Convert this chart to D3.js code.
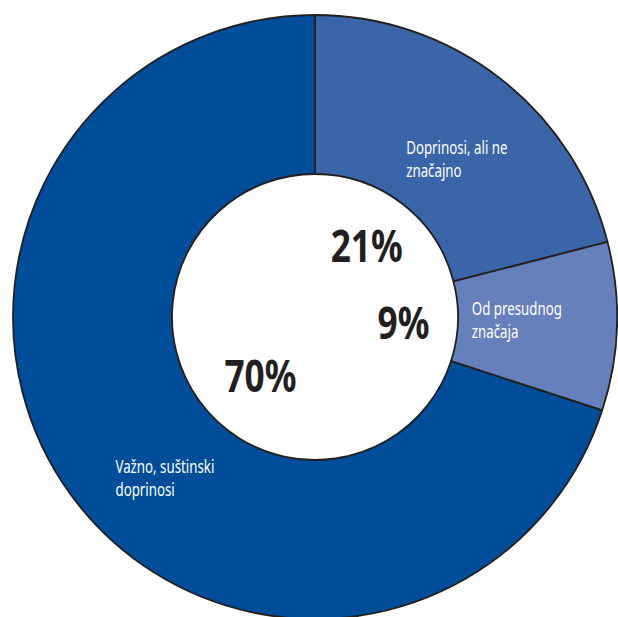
<!DOCTYPE html>
<html>
<head>
<meta charset="utf-8">
<script src="https://cdn.jsdelivr.net/npm/d3@7"></script>
<style>
  html, body { margin: 0; padding: 0; background: #fff; }
  svg { display: block; }
  .pct { font-family: "Noto Sans", "Open Sans", sans-serif; font-weight: bold; fill: #231f20; }
  .cat text { font-family: "Noto Sans", "Open Sans", sans-serif; fill: #fff; }
</style>
</head>
<body>
<div id="chart"></div>
<script>
// donnees
const categories = ["Doprinosi, ali ne značajno", "Od presudnog značaja", "Važno, suštinski doprinosi"];
const categoryLines = [["Doprinosi, ali ne", "značajno"], ["Od presudnog", "značaja"], ["Važno, suštinski", "doprinosi"]];
const values = [21, 9, 70];
const colors = ["#3a65a9", "#6680bc", "#004d99"];

const width = 618, height = 617;
const cx = 315, cy = 317;
const outerR = 302, innerR = 143;

// police etroite simulee
const pctScale = 0.8, catScale = 0.7;

// petits decalages des etiquettes par rapport au centroide
const pctNudge = [[-1, -2], [2.5, 4], [15, 9.5]];
const catNudge = [[12, 10.5], [-10, -3], [21.5, 37.5]];

const data = values.map((v, i) => ({ name: categories[i], value: v, lines: categoryLines[i], color: colors[i], i }));

const svg = d3.select("#chart")
  .append("svg")
  .attr("width", width)
  .attr("height", height);

const g = svg.append("g")
  .attr("transform", "translate(" + cx + "," + cy + ")");

const pie = d3.pie()
  .sort(null)
  .value(d => d.value);

const arc = d3.arc()
  .innerRadius(innerR)
  .outerRadius(outerR);

const arcs = pie(data);

g.selectAll("path.slice")
  .data(arcs)
  .join("path")
  .attr("class", "slice")
  .attr("d", arc)
  .attr("fill", d => d.data.color)
  .attr("stroke", "#231f20")
  .attr("stroke-width", 1.8)
  .attr("stroke-linejoin", "round");

// pourcentages dans le trou
const pctArc = d3.arc().innerRadius(86).outerRadius(86);
g.selectAll("text.pct")
  .data(arcs)
  .join("text")
  .attr("class", "pct")
  .attr("font-size", 44)
  .attr("text-anchor", "middle")
  .attr("transform", d => {
    const c = pctArc.centroid(d);
    const n = pctNudge[d.data.i];
    return "translate(" + (c[0] + n[0]) + "," + (c[1] + n[1] + 15) + ") scale(" + pctScale + ",1)";
  })
  .text(d => d.data.value + "%");

// libelles des categories
const catArc = d3.arc().innerRadius(212).outerRadius(212);
const cat = g.selectAll("g.cat")
  .data(arcs)
  .join("g")
  .attr("class", "cat");

cat.each(function (d) {
  const t = d3.select(this).append("text")
    .attr("font-size", 19);
  d.data.lines.forEach((l, j) => {
    t.append("tspan")
      .attr("x", 0)
      .attr("y", j * 23)
      .text(l);
  });
  const w = t.node().getBBox().width * catScale;
  const c = catArc.centroid(d);
  const n = catNudge[d.data.i];
  d3.select(this).attr("transform", "translate(" + (c[0] + n[0] - w / 2) + "," + (c[1] + n[1] - 6) + ") scale(" + catScale + ",1)");
});
</script>
</body>
</html>
